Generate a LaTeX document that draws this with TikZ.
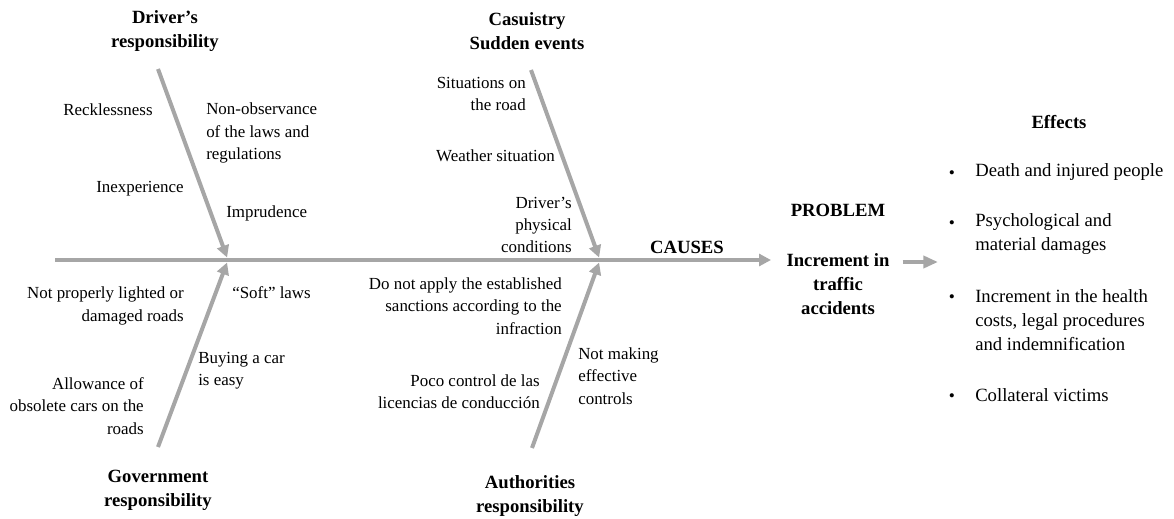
\documentclass[tikz,border=0pt]{standalone}
\usepackage{fontspec}
\setmainfont{Liberation Serif}
\usetikzlibrary{arrows.meta}

\begin{document}
\begin{tikzpicture}[x=0.75pt,y=-0.75pt,
  bone/.style={draw=gray!70,line width=3pt,-{Triangle[length=9pt,width=9pt]}},
  effarrow/.style={draw=gray!70,line width=3.6pt,-{Triangle[length=11pt,width=9pt]}},
  cause/.style={inner sep=0pt,font=\fontsize{12.7}{16.8}\selectfont},
  title/.style={inner sep=0pt,align=center,font=\fontsize{14}{18}\selectfont\bfseries},
  effect/.style={inner sep=0pt,anchor=west,align=left,font=\fontsize{14}{18}\selectfont},
  dot/.style={inner sep=0pt,font=\fontsize{13}{14}\selectfont}]

\useasboundingbox (0,0) rectangle (1174,518);

% spine and bone ends
\coordinate (tail) at (55,260);
\coordinate (head) at (771,260);
\coordinate (jleft) at (228,260);
\coordinate (jright) at (600,260);
\coordinate (dstart) at (158,69);
\coordinate (gstart) at (158,447);
\coordinate (cstart) at (531,70);
\coordinate (astart) at (532,448);

% group titles
\node[title] (driver) at (165,31) {Driver’s\\responsibility};
\node[title] (casuistry) at (527,31) {Casuistry\\Sudden events};
\node[title] (government) at (158,490) {Government\\responsibility};
\node[title] (authorities) at (530,496) {Authorities\\responsibility};

% spine
\draw[bone] (tail) -- (head);

% bones
\draw[bone,shorten >=2pt] (dstart) -- (jleft);
\draw[bone,shorten >=2pt] (gstart) -- (jleft);
\draw[bone,shorten >=2pt] (cstart) -- (jright);
\draw[bone,shorten >=2pt] (astart) -- (jright);

% driver causes
\node[cause,anchor=west] (reckless) at (63,110) {Recklessness};
\node[cause,anchor=west,align=left] (nonobs) at (206,133) {Non-observance\\of the laws and\\regulations};
\node[cause,anchor=west] (inexp) at (96,189) {Inexperience};
\node[cause,anchor=west] (imprud) at (226,213) {Imprudence};

% casuistry causes
\node[cause,anchor=east,align=right] (situations) at (526,94) {Situations on\\the road};
\node[cause,anchor=east] (weather) at (555,156) {Weather situation};
\node[cause,anchor=east,align=right] (physical) at (572,225) {Driver’s\\physical\\conditions};

% government causes
\node[cause,anchor=east,align=right] (lighted) at (184,306) {Not properly lighted or\\damaged roads};
\node[cause,anchor=west] (soft) at (232,293) {“Soft” laws};
\node[cause,anchor=west,align=left] (buying) at (198,371) {Buying a car\\is easy};
\node[cause,anchor=east,align=right] (obsolete) at (144,406) {Allowance of\\obsolete cars on the\\roads};

% authorities causes
\node[cause,anchor=east,align=right] (sanctions) at (562,306) {Do not apply the established\\sanctions according to the\\infraction};
\node[cause,anchor=west,align=left] (controls) at (578,376) {Not making\\effective\\controls};
\node[cause,anchor=east,align=right] (licencias) at (540,392) {Poco control de las\\licencias de conducción};

% problem
\node[title] (causes) at (687,247) {CAUSES};
\node[title] (problem) at (838,210) {PROBLEM};
\node[title] (incr) at (838,284) {Increment in\\traffic\\accidents};

% effects
\coordinate (effin) at (938,262);
\draw[effarrow] (incr.east |- effin) ++(13,0) -- (effin);
\node[title] (effects) at (1059,122) {Effects};
\node[effect] (death) at (975,172) {Death and injured people};
\node[effect] (damages) at (975,234) {Psychological and\\material damages};
\node[effect] (costs) at (975,320) {Increment in the health\\costs, legal procedures\\and indemnification};
\node[effect] (victims) at (975,395) {Collateral victims};
\foreach \y in {173,223,297,396}
  \node[dot] at (952,\y+2) {•};

\end{tikzpicture}
\end{document}
